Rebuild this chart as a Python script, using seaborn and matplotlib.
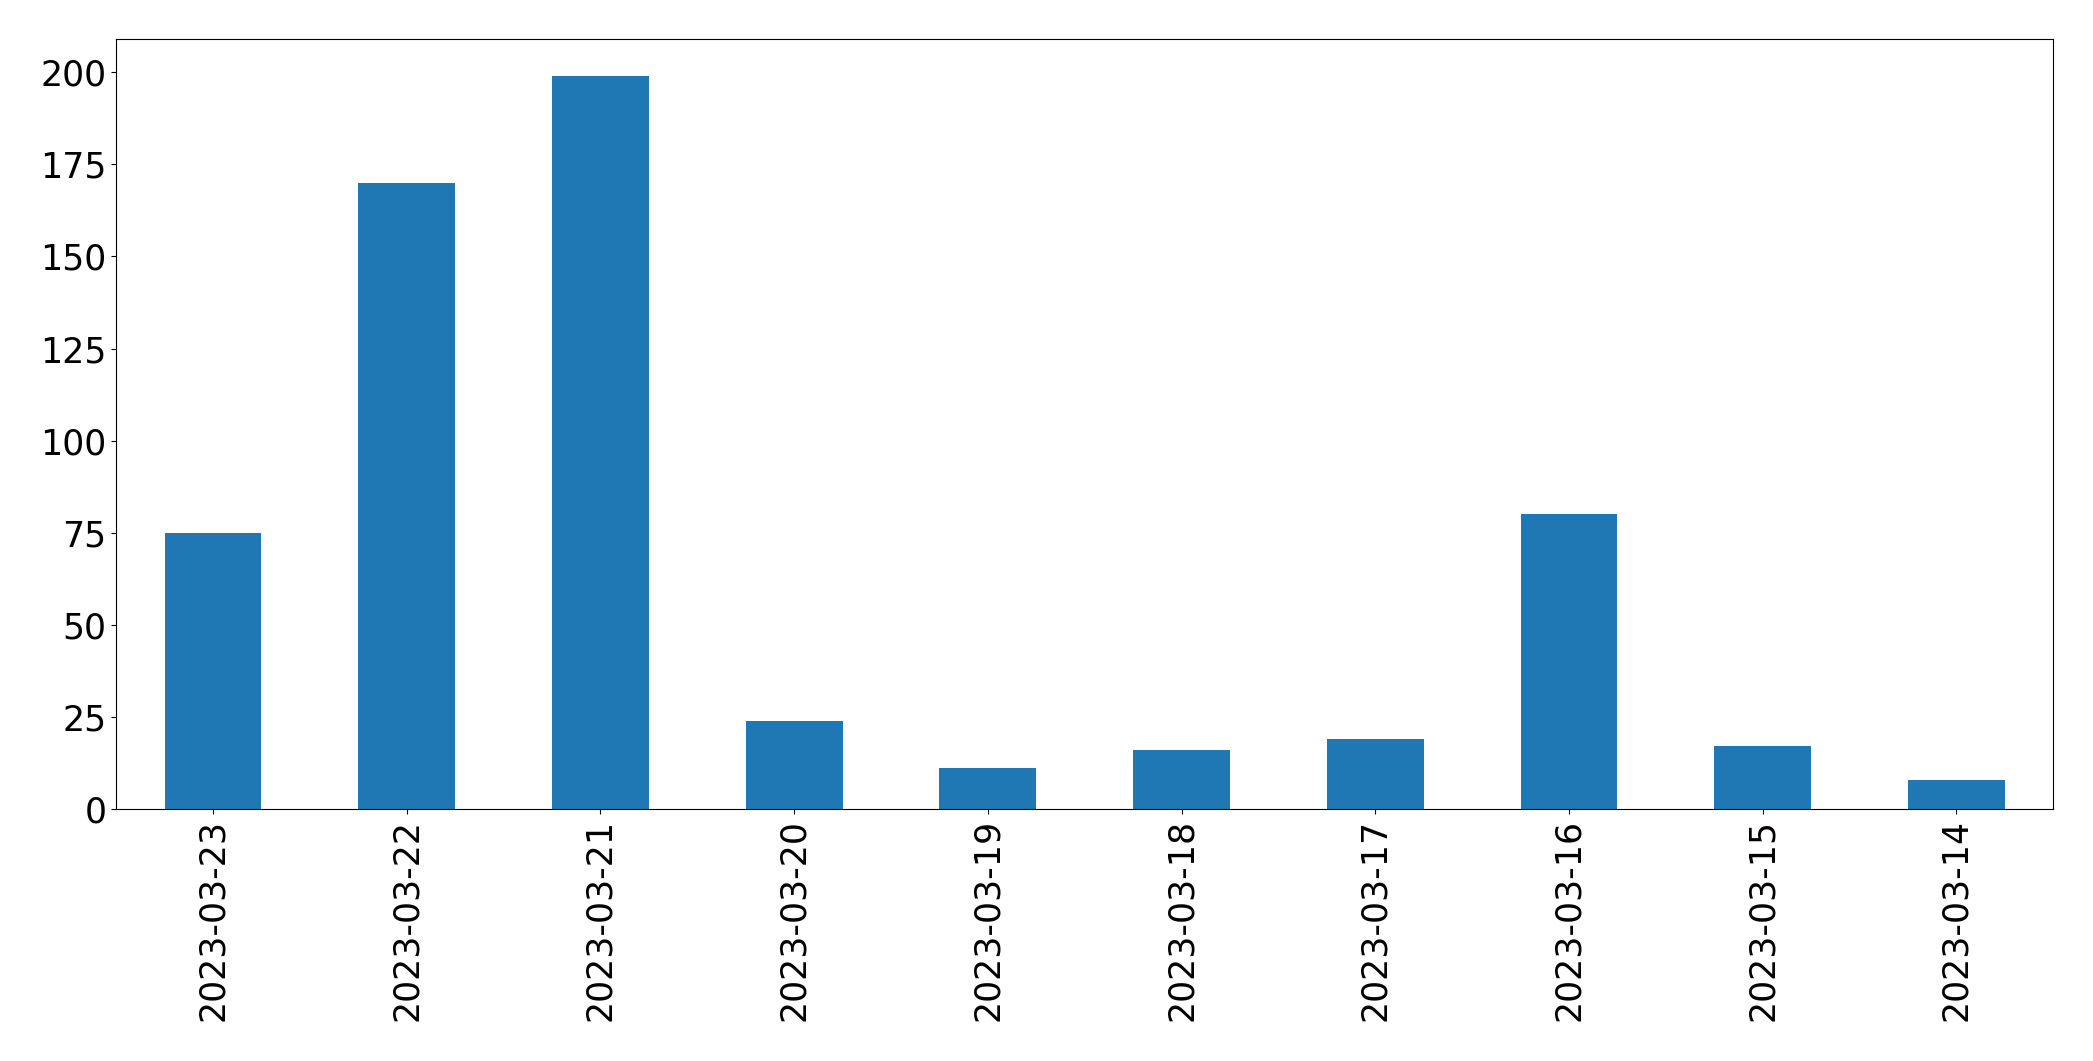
import matplotlib
matplotlib.use("Agg")
import matplotlib.pyplot as plt
import seaborn as sns
import pandas as pd

# Data
dates = ["2023-03-23", "2023-03-22", "2023-03-21", "2023-03-20", "2023-03-19",
         "2023-03-18", "2023-03-17", "2023-03-16", "2023-03-15", "2023-03-14"]
counts = [75, 170, 199, 24, 11, 16, 19, 80, 17, 8]

df = pd.DataFrame({"date": dates, "count": counts})

fig, ax = plt.subplots(figsize=(20.93, 10.61), dpi=100)
fig.subplots_adjust(left=0.0555, right=0.981, top=0.963, bottom=0.2375)

sns.barplot(data=df, x="date", y="count", order=dates, color="#1f77b4",
            saturation=1, width=0.5, ax=ax)

ax.set_xlim(-0.5, len(dates) - 0.5)
ax.set_ylim(0, max(counts) * 1.05)
ax.set_xlabel("")
ax.set_ylabel("")
ax.tick_params(axis="both", labelsize=25)
ax.tick_params(axis="x", labelrotation=90)
for s in ax.spines.values():
    s.set_visible(True)
    s.set_color("black")

plt.savefig("out.png", dpi=100)
